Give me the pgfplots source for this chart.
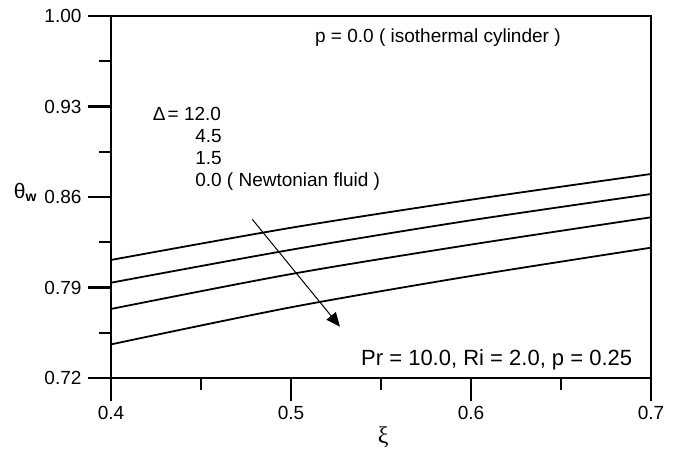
\documentclass[border=0pt]{standalone}
\usepackage{fontspec}
\setmainfont{Liberation Sans}
\newfontfamily\seriffont{Liberation Serif}
\usepackage{pgfplots}
\pgfplotsset{compat=1.18}
\usetikzlibrary{arrows.meta}

\pgfplotstableread{
x y
0.4 0.8113
0.5 0.8362
0.6 0.8579
0.7 0.8778
}\lineA
\pgfplotstableread{
x y
0.4 0.7937
0.5 0.8192
0.6 0.8420
0.7 0.8623
}\lineB
\pgfplotstableread{
x y
0.4 0.7734
0.5 0.8004
0.6 0.8232
0.7 0.8443
}\lineC
\pgfplotstableread{
x y
0.4 0.7460
0.5 0.7747
0.6 0.7989
0.7 0.8208
}\lineD

\newcommand{\bigf}{\fontsize{19}{23}\selectfont}
\begin{document}
\bigf
\begin{tikzpicture}[font=\bigf]
\begin{axis}[name=ax, at={(0pt,0pt)}, anchor=south west,
  scale only axis, width=540pt, height=362pt,
  xmin=0.4, xmax=0.7, ymin=0.72, ymax=1.00,
  xtick={0.4,0.5,0.6,0.7}, xticklabels={0.4,0.5,0.6,0.7},
  ytick={0.72,0.79,0.86,0.93,1.00}, yticklabels={0.72,0.79,0.86,0.93,1.00},
  minor xtick={0.45,0.55,0.65}, minor ytick={0.755,0.825,0.895,0.965},
  tick align=outside, major tick length=23pt, minor tick length=12pt,
  xtick pos=bottom, ytick pos=left,
  axis line style={line width=2.1pt},
  every tick/.style={line width=2.1pt, black},
  every tick label/.append style={font=\bigf},
  ticklabel style={font=\bigf},
  xticklabel style={font=\bigf, yshift=1pt},
  yticklabel style={font=\bigf},
  every axis y label/.style={at={(axis description cs:-0.159,0.497)}, anchor=base, font=\fontsize{21}{25}\selectfont},
  ylabel={θ\raisebox{-0.3ex}{\fontsize{14}{16}\selectfont\bfseries w}},
  every axis x label/.style={at={(axis description cs:0.504,0)}, anchor=base, yshift=-65pt, font=\fontsize{24}{28}\selectfont},
  xlabel={{\seriffont ξ}},
]
\addplot[black, line width=1.8pt, smooth] table {\lineA};
\addplot[black, line width=1.8pt, smooth] table {\lineB};
\addplot[black, line width=1.8pt, smooth] table {\lineC};
\addplot[black, line width=1.8pt, smooth] table {\lineD};
\draw[black, line width=1pt, -{Triangle[length=14pt,width=12pt]}] (axis cs:0.4785,0.8427) -- (axis cs:0.5272,0.7597);
\node[anchor=base west, inner sep=0pt] at (axis cs:0.5133,0.9796) {p = 0.0 ( isothermal cylinder )};
\node[anchor=base west, inner sep=0pt] at (axis cs:0.4232,0.9188) {Δ\kern2pt= 12.0};
\node[anchor=base west, inner sep=0pt] at (axis cs:0.4467,0.9020) {4.5};
\node[anchor=base west, inner sep=0pt] at (axis cs:0.4467,0.8850) {1.5};
\node[anchor=base west, inner sep=0pt] at (axis cs:0.4467,0.8679) {0.0 ( Newtonian fluid )};
\node[anchor=base west, inner sep=0pt, font=\fontsize{22}{26}\selectfont] at (axis cs:0.5389,0.7295) {Pr = 10.0, Ri = 2.0, p = 0.25};
\end{axis}
\pgfresetboundingbox
\path (-111pt,-73pt) rectangle (566pt,378pt);
\end{tikzpicture}
\end{document}
